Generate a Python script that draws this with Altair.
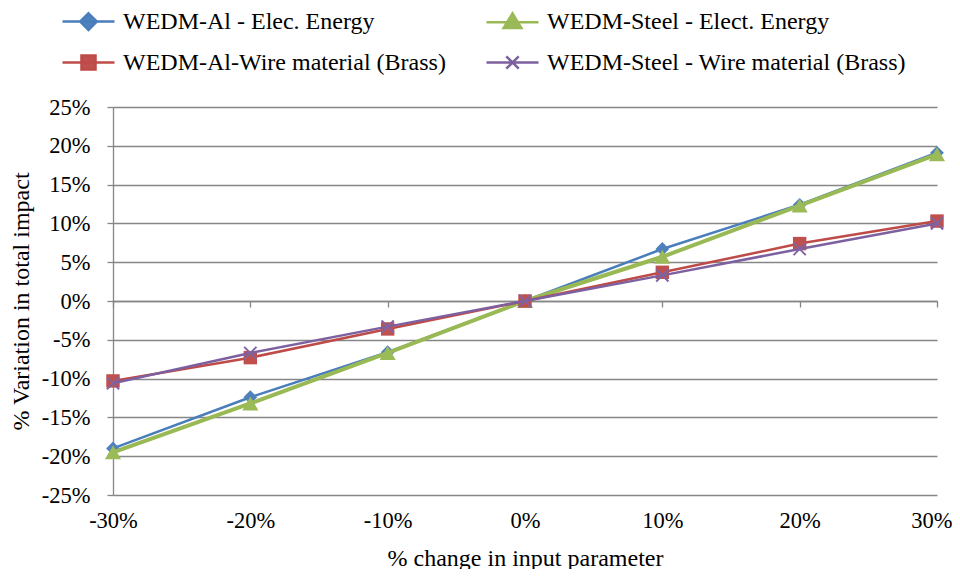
import altair as alt
import pandas as pd

# ---- data ----
x_change = [-0.30, -0.20, -0.10, 0.0, 0.10, 0.20, 0.30]
series_names = [
    "WEDM-Al - Elec. Energy",
    "WEDM-Steel - Elect. Energy",
    "WEDM-Al-Wire material (Brass)",
    "WEDM-Steel - Wire material (Brass)",
]
al_energy = [-19.0, -12.4, -6.6, 0.0, 6.7, 12.4, 19.1]
steel_energy = [-19.5, -13.2, -6.7, 0.0, 5.7, 12.3, 18.9]
al_wire = [-10.3, -7.3, -3.6, 0.0, 3.7, 7.4, 10.3]
steel_wire = [-10.6, -6.7, -3.3, 0.0, 3.3, 6.7, 10.0]
y_ticks = [-0.25, -0.20, -0.15, -0.10, -0.05, 0.0, 0.05, 0.10, 0.15, 0.20, 0.25]

values = [al_energy, steel_energy, al_wire, steel_wire]
rows = []
for name, vals in zip(series_names, values):
    for xv, yv in zip(x_change, vals):
        rows.append({"series": name, "x": xv, "y": yv / 100.0})
df = pd.DataFrame(rows)

# ---- styles ----
line_colors = ["#4A7EBB", "#98B954", "#BE4B48", "#7D60A0"]
marker_colors = ["#4F81BD", "#9BBB59", "#C0504D", "#8064A2"]
line_widths = [2.5, 4, 2.5, 2.5]
X_PATH = "M-1,-1L1,1M-1,1L1,-1"
marker_shapes = ["diamond", "triangle-up", "square", X_PATH]
marker_sizes = [190, 260, 180, 150]
legend_paths = [
    "M-1,0H1M0,-0.32L0.32,0L0,0.32L-0.32,0Z",
    "M-1,0H1M0,-0.34L0.34,0.22L-0.34,0.22Z",
    "M-1,0H1M-0.27,-0.27H0.27V0.27H-0.27Z",
    "M-1,0H1M-0.24,-0.24L0.24,0.24M-0.24,0.24L0.24,-0.24",
]

FONT = "Liberation Serif"
GRID = "#868686"
fix_minus = "replace(datum.label, '\u2212', '-')"

x_enc = alt.X(
    "x:Q",
    scale=alt.Scale(domain=[-0.3, 0.3], nice=False, zero=False),
    axis=alt.Axis(
        values=x_change, format=".0%", labelExpr=fix_minus, grid=False,
        offset=-194, domainColor=GRID, domainWidth=1.3, tickColor=GRID,
        tickWidth=1.3, tickSize=6, labelFont=FONT, labelFontSize=22.5,
        labelColor="black", labelPadding=202, labelFlush=False,
        labelAlign={"condition": {"test": "datum.value >= 0.29", "value": "right"}, "value": "center"},
        labelOffset={"condition": {"test": "datum.value >= 0.29", "value": 15}, "value": 0},
        title="% change in input parameter", titleFont=FONT, titleFontSize=24,
        titleFontWeight="normal", titleColor="black",
        titleBaseline="alphabetic", titleY=264,
    ),
)
y_enc = alt.Y(
    "y:Q",
    scale=alt.Scale(domain=[-0.25, 0.25], nice=False, zero=False),
    axis=alt.Axis(
        values=y_ticks, format=".0%", labelExpr=fix_minus, grid=True,
        gridColor=GRID, gridWidth=1.3, domainColor=GRID, domainWidth=1.3,
        tickColor=GRID, tickWidth=1.3, tickSize=6, labelFont=FONT,
        labelFontSize=22.5, labelColor="black", labelPadding=17,
        title="% Variation in total impact", titleFont=FONT, titleFontSize=24,
        titleFontWeight="normal", titleColor="black", titlePadding=8,
    ),
)

base = alt.Chart(df).encode(x=x_enc, y=y_enc)

layers = []
for i, name in enumerate(series_names):
    sub = base.transform_filter(alt.datum.series == name)
    layers.append(sub.mark_line(color=line_colors[i], strokeWidth=line_widths[i]))
    if marker_shapes[i] == X_PATH:
        layers.append(sub.mark_point(shape=X_PATH, filled=False, stroke=marker_colors[i],
                                     strokeWidth=2, size=marker_sizes[i], opacity=1))
    else:
        layers.append(sub.mark_point(shape=marker_shapes[i], filled=True, fill=marker_colors[i],
                                     size=marker_sizes[i], opacity=1))

leg = alt.Legend(
    title=None, orient="none", legendX=-52, legendY=-113, direction="horizontal",
    columns=2, columnPadding=35, rowPadding=0, symbolSize=2704,
    symbolStrokeWidth=2.5, labelFont=FONT, labelFontSize=24, labelColor="black",
    labelOffset=7, labelLimit=0,
)
legend_layer = base.transform_filter("false").mark_point(filled=True, opacity=1).encode(
    fill=alt.Fill("series:N", scale=alt.Scale(domain=series_names, range=marker_colors), legend=leg),
    stroke=alt.Stroke("series:N", scale=alt.Scale(domain=series_names, range=line_colors), legend=leg),
    shape=alt.Shape("series:N", scale=alt.Scale(domain=series_names, range=legend_paths), legend=leg),
)
layers.append(legend_layer)

chart = alt.layer(*layers).properties(
    width=824, height=388,
    autosize=alt.AutoSizeParams(type="none"),
    padding={"left": 105, "top": 99, "right": 15, "bottom": 74},
).configure(font=FONT).configure_view(stroke=None)

chart.save("out.html", embed_options={"renderer": "svg", "actions": False})
